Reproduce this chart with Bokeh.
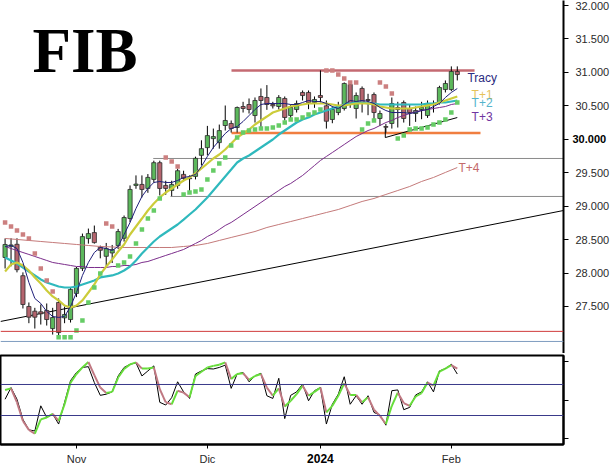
from bokeh.plotting import figure
from bokeh.models import Range1d, FixedTicker, Label, Span, LinearAxis
from bokeh.layouts import column
from bokeh.embed import file_html
from bokeh.resources import INLINE

# ---------------- data ----------------
idx = list(range(77))
open_ = [28233, 28400, 28430, 27960, 27500, 27430, 27420, 27440, 27170, 27560,
         27330, 27305, 27695, 28070, 28515, 28605, 28385, 28250, 28300, 28410,
         28520, 28815, 29310, 29325, 29265, 29400, 29650, 29310, 29235, 29310,
         29475, 29420, 29445, 29760, 29875, 30010, 29950, 30206, 30236, 30176,
         30490, 30520, 30355, 30640, 30625, 30520, 30490, 30610, 30355, 30445,
         30700, 30700, 30550, 30654, 30500, 30296, 30400, 30460, 30819, 30460,
         30760, 30595, 30669, 30311, 30190, 30236, 30475, 30550, 30460, 30385,
         30445, 30355, 30520, 30550, 30744, 30744, 31013]
high = [28517, 28520, 28520, 28010, 27560, 27480, 27530, 27545, 27480, 27620,
        27500, 27785, 28090, 28590, 28665, 28710, 28410, 28450, 28420, 28660,
        28860, 29310, 29460, 29460, 29480, 29680, 29680, 29380, 29380, 29560,
        29530, 29460, 29740, 29985, 30200, 30160, 30220, 30505, 30281, 30490,
        30560, 30610, 30625, 30760, 30810, 30560, 30660, 30640, 30520, 30580,
        30730, 30730, 30640, 31030, 30580, 30490, 30560, 30850, 30830, 30700,
        30790, 30680, 30700, 30430, 30230, 30625, 30560, 30580, 30520, 30490,
        30560, 30580, 30580, 30800, 30880, 31090, 31090]
low = [28068, 28100, 28010, 27470, 27250, 27170, 27230, 27215, 27080, 27060,
       27250, 27260, 27640, 28030, 28440, 28440, 28220, 28080, 28150, 28360,
       28470, 28760, 29260, 29130, 29200, 29350, 29160, 29170, 29150, 29260,
       29370, 29230, 29400, 29610, 29760, 29860, 29860, 30131, 30100, 30101,
       30400, 30385, 30250, 30170, 30440, 30460, 30445, 30280, 30300, 30400,
       30580, 30450, 30470, 30550, 30160, 30240, 30360, 30430, 30470, 30310,
       30400, 30360, 30300, 30200, 30100, 30160, 30176, 30250, 30200, 30260,
       30300, 30320, 30400, 30520, 30700, 30720, 30880]
close = [28427, 28420, 28050, 27530, 27340, 27340, 27390, 27305, 27335, 27110,
         27380, 27755, 28070, 28545, 28590, 28455, 28340, 28365, 28350, 28620,
         28830, 29250, 29330, 29250, 29430, 29650, 29265, 29265, 29325, 29530,
         29415, 29410, 29715, 29860, 30055, 30040, 30130, 30281, 30161, 30475,
         30460, 30445, 30580, 30580, 30520, 30500, 30625, 30326, 30475, 30535,
         30654, 30550, 30595, 30625, 30270, 30445, 30490, 30834, 30520, 30654,
         30550, 30580, 30400, 30385, 30180, 30535, 30445, 30311, 30400, 30430,
         30475, 30535, 30535, 30774, 30834, 31013, 30968]

# parabolic SAR (value, side: 1 = below price / green, -1 = above / pink)
sar = [28756, 28696, 28636, 28577, 28517, 28292, 28068, 27889, 27724, 27040,
       27040, 27040, 27141, 27291, 27560, 27784, 27993, 28741, 28696, 28113,
       28158, 28247, 28442, 28651, 28816, 28935, 29115, 29728, 29668, 29593,
       29175, 29204, 29219, 29249, 29399, 29533, 29638, 29728, 29907, 30027,
       30101, 30131, 30146, 30161, 30161, 30176, 30206, 30251, 30296, 30296,
       30326, 30370, 30400, 30445, 31028, 31028, 30968, 30909, 30849, 30849,
       30146, 30236, 30281, 30849, 30789, 30684, 30012, 30056, 30146, 30161,
       30161, 30176, 30221, 30251, 30296, 30400, 30550]
sar_side = [-1] * 9 + [1] * 8 + [-1] * 2 + [1] * 8 + [-1] * 3 + [1] * 24 + \
           [-1] * 6 + [1] * 3 + [-1] * 3 + [1] * 11

ma_tracy = [28397, 28412, 28367, 28158, 27859, 27620, 27545, 27425, 27351, 27336,
            27351, 27500, 27709, 27964, 28158, 28307, 28382, 28367, 28337, 28397,
            28576, 28756, 28965, 29145, 29264, 29354, 29369, 29354, 29354, 29384,
            29429, 29444, 29474, 29593, 29743, 29877, 29982, 30086, 30161, 30191,
            30266, 30355, 30445, 30520, 30535, 30535, 30535, 30535, 30520, 30520,
            30550, 30580, 30565, 30565, 30535, 30490, 30460, 30520, 30580, 30565,
            30580, 30565, 30535, 30475, 30430, 30400, 30400, 30400, 30385, 30400,
            30430, 30445, 30490, 30535, 30625, 30700, 30759]
ma_t1 = [28023, 28128, 28158, 28113, 28038, 27934, 27844, 27739, 27650, 27590,
         27515, 27485, 27515, 27590, 27709, 27829, 27979, 28098, 28203, 28322,
         28427, 28576, 28696, 28815, 28935, 29040, 29130, 29204, 29264, 29324,
         29384, 29429, 29489, 29563, 29638, 29713, 29772, 29847, 29937, 30026,
         30086, 30146, 30221, 30281, 30340, 30400, 30430, 30460, 30490, 30505,
         30520, 30535, 30535, 30535, 30535, 30520, 30505, 30505, 30520, 30535,
         30535, 30535, 30520, 30490, 30475, 30460, 30460, 30460, 30460, 30475,
         30490, 30505, 30520, 30550, 30580, 30610, 30640]
ma_t2 = [28233, 28188, 28143, 28083, 28023, 27964, 27904, 27859, 27829, 27799,
         27784, 27784, 27799, 27829, 27859, 27889, 27934, 27949, 27964, 27994,
         28038, 28098, 28188, 28292, 28382, 28472, 28546, 28606, 28666, 28726,
         28800, 28875, 28950, 29040, 29130, 29234, 29339, 29444, 29548, 29653,
         29713, 29757, 29817, 29877, 29937, 29997, 30071, 30131, 30191, 30251,
         30296, 30325, 30370, 30400, 30430, 30460, 30490, 30520, 30535, 30550,
         30550, 30535, 30535, 30520, 30520, 30520, 30520, 30520, 30520, 30520,
         30520, 30535, 30535, 30550, 30550, 30565, 30580]
ma_t3 = [28397, 28367, 28337, 28307, 28278, 28248, 28218, 28188, 28158, 28143,
         28128, 28113, 28098, 28098, 28083, 28083, 28083, 28083, 28098, 28098,
         28113, 28113, 28128, 28158, 28173, 28203, 28233, 28263, 28292, 28322,
         28352, 28397, 28442, 28487, 28546, 28591, 28651, 28711, 28756, 28815,
         28875, 28935, 28995, 29055, 29115, 29175, 29234, 29294, 29339, 29399,
         29459, 29533, 29608, 29683, 29743, 29802, 29862, 29922, 29982, 30041,
         30086, 30131, 30161, 30206, 30251, 30281, 30325, 30355, 30385, 30415,
         30430, 30445, 30460, 30475, 30490, 30520, 30535]
t4_idx = list(range(0, 77, 2))
ma_t4 = [28517, 28502, 28487, 28472, 28457, 28442, 28427, 28412, 28397, 28390,
         28382, 28382, 28382, 28382, 28382, 28397, 28412, 28442, 28487, 28532,
         28576, 28621, 28681, 28726, 28770, 28815, 28860, 28905, 28950, 29010,
         29070, 29115, 29175, 29234, 29294, 29369, 29429, 29504, 29578]

# drawn levels / trendlines
level_top = 31030
level_orange = 30095
level_grey1 = 29713
level_grey2 = 29145
level_red = 27128
level_blue = 26977
trend_x = [-0.77, 93.85]
trend_y = [27276, 28935]
chan_x = [63.9, 63.9, 76.0]
chan_y = [30176, 30026, 30325]

price_ticks = [27500, 28000, 28500, 29000, 29500, 30000, 30500, 31000, 31500, 32000]
price_labels = ["27.500", "28.000", "28.500", "29.000", "29.500", "30.000",
                "30.500", "31.000", "31.500", "32.000"]
bold_price = 30000
date_ticks = [12, 34, 53, 75]
date_labels = ["Nov", "Dic", "2024", "Feb"]
bold_date = 53

# oscillator
osc_k = [51, 66, 51, 25, 11.5, 10, 42.5, 27.5, 32, 19,
         47, 75, 85.5, 92, 93, 72.5, 56, 57.5, 60.5, 81,
         92, 96, 98, 81, 87.5, 94, 47, 43.5, 53, 73.5,
         60.5, 52, 83.5, 87.5, 90.5, 90, 92, 95, 65, 83.5,
         85.5, 73.5, 81, 84.5, 55.5, 52, 78, 26, 56, 60.5,
         70.5, 49, 62, 66, 19, 44.5, 57.5, 80, 44.5, 55.5,
         44.5, 55.5, 34, 30.5, 17.5, 62, 63, 37.5, 40.5, 56.5,
         60.5, 73.5, 60.5, 87.5, 90.5, 96, 83.5]
osc_d = [63, 65, 47, 23, 11.5, 6.5, 25, 27.5, 32, 23,
         44.5, 72.5, 83.5, 92, 99, 82, 66, 59, 60.5, 79,
         90, 96, 98.5, 90.5, 90.5, 92, 64, 47, 44.5, 62,
         59.5, 53.5, 81, 86.5, 92, 94, 95.5, 98.5, 77, 83.5,
         84.5, 76, 81, 83.5, 66, 55.5, 65, 41.5, 49, 57.5,
         68.5, 55.5, 60.5, 66, 34, 42.5, 55.5, 71.5, 56.5, 56.5,
         47, 53.5, 37.5, 29.5, 19, 42.5, 59.5, 46, 42.5, 54.5,
         59, 72.5, 68.5, 86.5, 90.5, 95, 90.5]
osc_levels = [70, 30]
osc_ticks = [0, 50, 100]

# ---------------- styling ----------------
GREEN = "#5cb85c"
RED = "#b5646e"
SANS = "Liberation Sans"

X0, X1 = -0.77, 93.85

p = figure(width=614, height=353, x_range=Range1d(X0, X1), y_range=Range1d(26797, 32075),
           output_backend="svg", toolbar_location=None, x_axis_location=None,
           y_axis_location="right", min_border_left=0, min_border_top=0,
           min_border_bottom=0, min_border_right=51)
p.outline_line_color = None
p.grid.visible = False
p.background_fill_color = "white"
p.border_fill_color = "white"

# inner right axis: line, all ticks, bold label only
ya = p.yaxis[0]
ya.ticker = FixedTicker(ticks=price_ticks)
ya.major_label_overrides = {t: (l if t == bold_price else "") for t, l in zip(price_ticks, price_labels)}
ya.axis_line_width = 2
ya.axis_line_color = "black"
ya.major_tick_out = 5
ya.major_tick_in = 0
ya.minor_tick_line_color = None
ya.major_label_standoff = 4
ya.major_label_text_font = SANS
ya.major_label_text_font_size = "11px"
ya.major_label_text_font_style = "bold"
ya.major_label_text_color = "black"

# outer right axis: regular labels only, pulled back next to the ticks
ya_b = LinearAxis(ticker=FixedTicker(ticks=price_ticks),
                  major_label_overrides={t: ("" if t == bold_price else l) for t, l in zip(price_ticks, price_labels)},
                  axis_line_color=None, major_tick_line_color=None, minor_tick_line_color=None,
                  major_tick_out=0, major_tick_in=0, major_label_standoff=-34,
                  major_label_text_font=SANS, major_label_text_font_size="11px",
                  major_label_text_color="#2a2a2a")
p.add_layout(ya_b, "right")

# levels
p.add_layout(Span(location=level_red, dimension="width", line_color="#d03a3a", line_width=1))
p.add_layout(Span(location=level_blue, dimension="width", line_color="#7f9cc0", line_width=1))
p.segment(x0=[24.9], y0=[level_grey1], x1=[X1], y1=[level_grey1], line_color="#8a8a8a", line_width=1)
p.segment(x0=[27.8], y0=[level_grey2], x1=[X1], y1=[level_grey2], line_color="#8a8a8a", line_width=1)
p.segment(x0=[38.05], y0=[level_top], x1=[78.9], y1=[level_top], line_color="#c46a72", line_width=2.5)
p.segment(x0=[38.05], y0=[level_orange], x1=[79.9], y1=[level_orange], line_color="#f07e40", line_width=2.5)
p.line(trend_x, trend_y, line_color="black", line_width=1)
p.line(chan_x, chan_y, line_color="black", line_width=1)

# candles
p.segment(x0=idx, y0=low, x1=idx, y1=high, line_color="black", line_width=1)
body_top = [max(o, c) for o, c in zip(open_, close)]
body_bot = [min(o, c) for o, c in zip(open_, close)]
body_col = [GREEN if c >= o else RED for o, c in zip(open_, close)]
p.vbar(x=idx, width=0.7, top=body_top, bottom=body_bot, fill_color=body_col,
       line_color="#2b2b2b", line_width=0.8)

# moving averages
p.line(t4_idx, ma_t4, line_color="#c47a7a", line_width=1)
p.line(idx, ma_t3, line_color="#7b2d8b", line_width=1)
p.line(idx, ma_t2, line_color="#2fb9bd", line_width=2.2)
p.line(idx, ma_t1, line_color="#cccc3a", line_width=2.2)
p.line(idx, ma_tracy, line_color="#1f1f7a", line_width=1)

# SAR
sar_col = ["#66cc66" if s > 0 else "#cc8080" for s in sar_side]
p.scatter(idx, sar, marker="square", size=4.5, fill_color=sar_col, line_color=None)

# labels
for txt, xx, yy, col in [("Tracy", 77.7, 30909, "#2a2a80"), ("T+1", 78.4, 30669, "#e6c25a"),
                         ("T+2", 78.4, 30535, "#54b4cc"), ("T+3", 78.4, 30330, "#7034a0"),
                         ("T+4", 76.2, 29570, "#c46a6a")]:
    p.add_layout(Label(x=xx, y=yy, text=txt, text_color=col, text_font=SANS,
                       text_font_size="12px", text_baseline="middle", text_align="left"))

p.add_layout(Label(x=32, y=353 - 50, x_units="screen", y_units="screen", text="FIB",
                   text_font="Liberation Serif", text_font_style="bold",
                   text_font_size="63px", text_color="black", text_baseline="alphabetic"))

# ---------------- oscillator panel ----------------
p2 = figure(width=614, height=121, x_range=p.x_range, y_range=Range1d(-7.4, 107.4),
            output_backend="svg", toolbar_location=None, y_axis_location="right",
            min_border_left=0, min_border_top=2, min_border_bottom=30, min_border_right=51)
p2.grid.visible = False
p2.outline_line_color = "black"
p2.outline_line_width = 2
p2.border_fill_color = "white"

# inner bottom axis: ticks + bold year label
xa = p2.xaxis[0]
xa.ticker = FixedTicker(ticks=date_ticks)
xa.major_label_overrides = {t: (l if t == bold_date else "") for t, l in zip(date_ticks, date_labels)}
xa.axis_line_width = 2
xa.major_tick_out = 4
xa.major_tick_in = 0
xa.minor_tick_line_color = None
xa.major_label_standoff = 5
xa.major_label_text_font = SANS
xa.major_label_text_font_size = "12px"
xa.major_label_text_font_style = "bold"
xa.major_label_text_color = "black"

# outer bottom axis: month labels, pulled back up
xa_b = LinearAxis(ticker=FixedTicker(ticks=date_ticks),
                  major_label_overrides={t: ("" if t == bold_date else l) for t, l in zip(date_ticks, date_labels)},
                  axis_line_color=None, major_tick_line_color=None, minor_tick_line_color=None,
                  major_tick_out=0, major_tick_in=0, major_label_standoff=-13,
                  major_label_text_font=SANS, major_label_text_font_size="11px",
                  major_label_text_color="#2a2a2a")
p2.add_layout(xa_b, "below")

ya2 = p2.yaxis[0]
ya2.ticker = FixedTicker(ticks=osc_ticks)
ya2.major_label_overrides = {t: "" for t in osc_ticks}
ya2.axis_line_width = 2
ya2.major_tick_out = 5
ya2.major_tick_in = 0
ya2.minor_tick_line_color = None

for lv in osc_levels:
    p2.add_layout(Span(location=lv, dimension="width", line_color="#3a3a8a", line_width=1))

p2.line(idx, osc_k, line_color="black", line_width=1)
seg_col = ["#66dd3a" if osc_d[i + 1] >= osc_d[i] else "#c07882" for i in range(len(osc_d) - 1)]
p2.segment(x0=idx[:-1], y0=osc_d[:-1], x1=idx[1:], y1=osc_d[1:], line_color=seg_col, line_width=2)

layout = column(p, p2)
open("out.html", "w").write(file_html(layout, INLINE))
